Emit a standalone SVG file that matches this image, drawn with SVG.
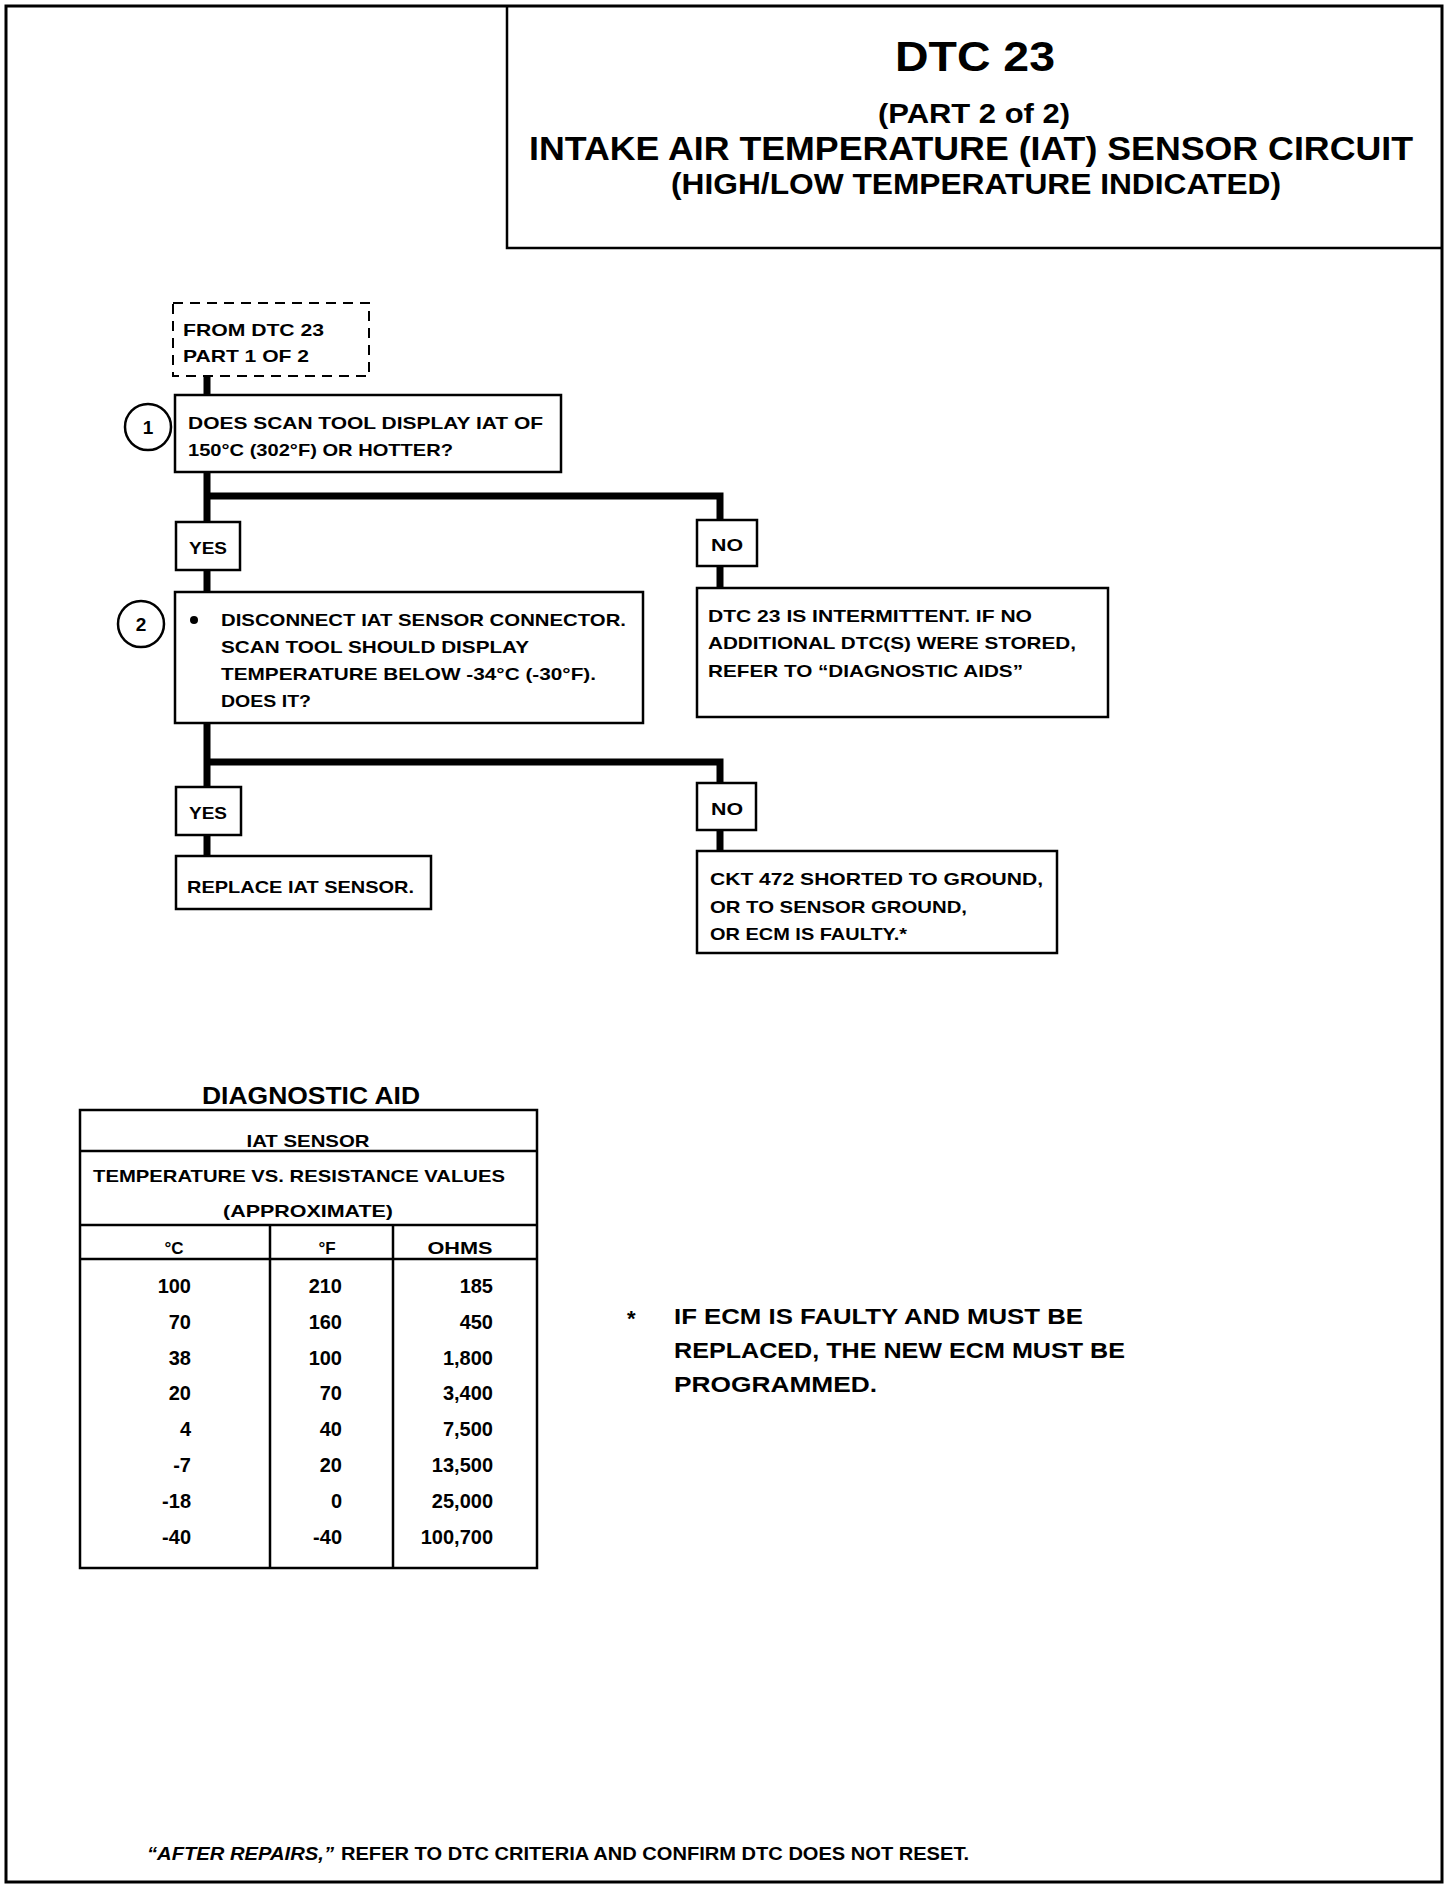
<svg xmlns="http://www.w3.org/2000/svg" width="1456" height="1888" viewBox="0 0 1456 1888">
<style>
text{font-family:"Liberation Sans",Arial,sans-serif;font-weight:bold;fill:#000}
.box{fill:#fff;stroke:#000;stroke-width:2.5}
.t{font-size:17px}
.tb{font-size:20px}
.c{text-anchor:middle}
.r{text-anchor:end}
.conn{fill:none;stroke:#000;stroke-width:7}
.grid{stroke:#000;stroke-width:2.5;fill:none}
</style>
<rect x="0" y="0" width="1456" height="1888" fill="#fff"/>
<rect x="6" y="6" width="1436" height="1876" fill="none" stroke="#000" stroke-width="3"/>

<g id="title">
<path d="M507 6 V248 H1442" fill="none" stroke="#000" stroke-width="2.5"/>
<text x="975" y="71" class="c" style="font-size:42px" textLength="160" lengthAdjust="spacingAndGlyphs">DTC 23</text>
<text x="974" y="123" class="c" style="font-size:28px" textLength="192" lengthAdjust="spacingAndGlyphs">(PART 2 of 2)</text>
<text x="971" y="160" class="c" style="font-size:33px" textLength="884" lengthAdjust="spacingAndGlyphs">INTAKE AIR TEMPERATURE (IAT) SENSOR CIRCUIT</text>
<text x="976" y="194" class="c" style="font-size:29px" textLength="610" lengthAdjust="spacingAndGlyphs">(HIGH/LOW TEMPERATURE INDICATED)</text>
</g>

<g id="connectors">
<path class="conn" d="M207 376 V395"/>
<path class="conn" d="M207 472 V522 M204 496 H720 V520"/>
<path class="conn" d="M207 570 V592"/>
<path class="conn" d="M720 566 V588"/>
<path class="conn" d="M207 723 V787 M204 762 H720 V783"/>
<path class="conn" d="M207 835 V856"/>
<path class="conn" d="M720 830 V851"/>
</g>

<g id="from-part1">
<rect x="173" y="303" width="196" height="73" fill="#fff" stroke="#000" stroke-width="2" stroke-dasharray="10,7"/>
<text x="183" y="336" class="t" textLength="141" lengthAdjust="spacingAndGlyphs">FROM DTC 23</text>
<text x="183" y="362" class="t" textLength="126" lengthAdjust="spacingAndGlyphs">PART 1 OF 2</text>
</g>

<g id="step1">
<circle cx="148" cy="427" r="23" fill="#fff" stroke="#000" stroke-width="2.5"/>
<text x="148" y="434" class="c" style="font-size:19px">1</text>
<rect class="box" x="175" y="395" width="386" height="77"/>
<text x="188" y="429" class="t" textLength="355" lengthAdjust="spacingAndGlyphs">DOES SCAN TOOL DISPLAY IAT OF</text>
<text x="188" y="456" class="t" textLength="265" lengthAdjust="spacingAndGlyphs">150°C (302°F) OR HOTTER?</text>
</g>

<g id="yes1">
<rect class="box" x="176" y="522" width="64" height="48"/>
<text x="208" y="554" class="t c" textLength="38" lengthAdjust="spacingAndGlyphs">YES</text>
</g>

<g id="no1">
<rect class="box" x="697" y="520" width="60" height="46"/>
<text x="727" y="551" class="t c" textLength="32" lengthAdjust="spacingAndGlyphs">NO</text>
</g>

<g id="step2">
<circle cx="141" cy="624" r="23" fill="#fff" stroke="#000" stroke-width="2.5"/>
<text x="141" y="631" class="c" style="font-size:19px">2</text>
<rect class="box" x="175" y="592" width="468" height="131"/>
<circle cx="194" cy="620" r="4" fill="#000"/>
<text x="221" y="626" class="t" textLength="405" lengthAdjust="spacingAndGlyphs">DISCONNECT IAT SENSOR CONNECTOR.</text>
<text x="221" y="653" class="t" textLength="308" lengthAdjust="spacingAndGlyphs">SCAN TOOL SHOULD DISPLAY</text>
<text x="221" y="680" class="t" textLength="375" lengthAdjust="spacingAndGlyphs">TEMPERATURE BELOW -34°C  (-30°F).</text>
<text x="221" y="707" class="t" textLength="90" lengthAdjust="spacingAndGlyphs">DOES IT?</text>
</g>

<g id="intermittent">
<rect class="box" x="697" y="588" width="411" height="129"/>
<text x="708" y="622" class="t" textLength="324" lengthAdjust="spacingAndGlyphs">DTC 23 IS INTERMITTENT.  IF NO</text>
<text x="708" y="649" class="t" textLength="368" lengthAdjust="spacingAndGlyphs">ADDITIONAL DTC(S) WERE STORED,</text>
<text x="708" y="677" class="t" textLength="315" lengthAdjust="spacingAndGlyphs">REFER TO “DIAGNOSTIC AIDS”</text>
</g>

<g id="yes2">
<rect class="box" x="176" y="787" width="65" height="48"/>
<text x="208" y="819" class="t c" textLength="38" lengthAdjust="spacingAndGlyphs">YES</text>
</g>

<g id="no2">
<rect class="box" x="697" y="783" width="59" height="47"/>
<text x="727" y="815" class="t c" textLength="32" lengthAdjust="spacingAndGlyphs">NO</text>
</g>

<g id="replace-iat">
<rect class="box" x="176" y="856" width="255" height="53"/>
<text x="187" y="893" class="t" textLength="227" lengthAdjust="spacingAndGlyphs">REPLACE IAT SENSOR.</text>
</g>

<g id="ckt472">
<rect class="box" x="697" y="851" width="360" height="102"/>
<text x="710" y="885" class="t" textLength="333" lengthAdjust="spacingAndGlyphs">CKT 472  SHORTED TO GROUND,</text>
<text x="710" y="913" class="t" textLength="257" lengthAdjust="spacingAndGlyphs">OR TO SENSOR GROUND,</text>
<text x="710" y="940" class="t" textLength="197" lengthAdjust="spacingAndGlyphs">OR ECM IS FAULTY.*</text>
</g>

<g id="diagnostic-aid">
<text x="311" y="1104" class="c" style="font-size:23px" textLength="218" lengthAdjust="spacingAndGlyphs">DIAGNOSTIC AID</text>
<rect x="80" y="1110" width="457" height="458" class="grid"/>
<path class="grid" d="M80 1151 H537 M80 1225 H537 M80 1259 H537 M270 1225 V1568 M393 1225 V1568"/>
<text x="308" y="1147" class="t c" textLength="123" lengthAdjust="spacingAndGlyphs">IAT SENSOR</text>
<text x="93" y="1182" class="t" textLength="412" lengthAdjust="spacingAndGlyphs">TEMPERATURE VS. RESISTANCE VALUES</text>
<text x="308" y="1217" class="t c" textLength="170" lengthAdjust="spacingAndGlyphs">(APPROXIMATE)</text>
<text x="174" y="1254" class="t c">°C</text>
<text x="327" y="1254" class="t c">°F</text>
<text x="460" y="1254" class="t c" textLength="65" lengthAdjust="spacingAndGlyphs">OHMS</text>
<g class="tb">
<text x="191" y="1293" class="tb r">100</text><text x="342" y="1293" class="tb r">210</text><text x="493" y="1293" class="tb r">185</text>
<text x="191" y="1329" class="tb r">70</text><text x="342" y="1329" class="tb r">160</text><text x="493" y="1329" class="tb r">450</text>
<text x="191" y="1365" class="tb r">38</text><text x="342" y="1365" class="tb r">100</text><text x="493" y="1365" class="tb r">1,800</text>
<text x="191" y="1400" class="tb r">20</text><text x="342" y="1400" class="tb r">70</text><text x="493" y="1400" class="tb r">3,400</text>
<text x="191" y="1436" class="tb r">4</text><text x="342" y="1436" class="tb r">40</text><text x="493" y="1436" class="tb r">7,500</text>
<text x="191" y="1472" class="tb r">-7</text><text x="342" y="1472" class="tb r">20</text><text x="493" y="1472" class="tb r">13,500</text>
<text x="191" y="1508" class="tb r">-18</text><text x="342" y="1508" class="tb r">0</text><text x="493" y="1508" class="tb r">25,000</text>
<text x="191" y="1544" class="tb r">-40</text><text x="342" y="1544" class="tb r">-40</text><text x="493" y="1544" class="tb r">100,700</text>
</g>
</g>

<g id="footnote">
<text x="627" y="1326" style="font-size:22px">*</text>
<text x="674" y="1324" style="font-size:22px" textLength="409" lengthAdjust="spacingAndGlyphs">IF ECM IS FAULTY AND MUST BE</text>
<text x="674" y="1358" style="font-size:22px" textLength="451" lengthAdjust="spacingAndGlyphs">REPLACED, THE NEW ECM MUST BE</text>
<text x="674" y="1392" style="font-size:22px" textLength="203" lengthAdjust="spacingAndGlyphs">PROGRAMMED.</text>
</g>

<g id="after-repairs">
<text x="147" y="1860" style="font-size:18px;font-style:italic" textLength="187" lengthAdjust="spacingAndGlyphs">“AFTER REPAIRS,”</text>
<text x="341" y="1860" style="font-size:18px" textLength="628" lengthAdjust="spacingAndGlyphs">REFER TO DTC CRITERIA AND CONFIRM DTC DOES NOT RESET.</text>
</g>
</svg>
